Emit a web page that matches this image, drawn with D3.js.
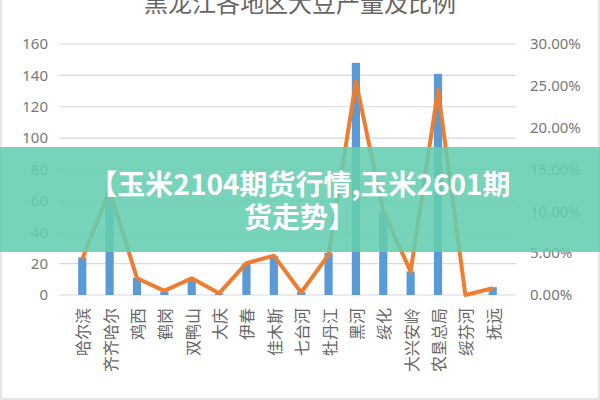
<!DOCTYPE html><html><head><meta charset="utf-8"><script src="https://cdn.jsdelivr.net/npm/d3@7"></script>
<style>body{margin:0;background:#fff}svg{display:block}</style></head><body>
<script>
const categories=["哈尔滨","齐齐哈尔","鸡西","鹤岗","双鸭山","大庆","伊春","佳木斯","七台河","牡丹江","黑河","绥化","大兴安岭","农垦总局","绥芬河","抚远"];
const production=[24,66,11,2,10,1,20,25,2,27,148,53,15,141,0,5];
const share=[0.043,0.125,0.02,0.005,0.02,0.002,0.038,0.047,0.003,0.048,0.255,0.10,0.028,0.245,0,0.008];
const leftTicks=[0,20,40,60,80,100,120,140,160];
const rightTicks=[0,0.05,0.10,0.15,0.20,0.25,0.30];
const title="黑龙江各地区大豆产量及比例";
const bannerLines=["【玉米2104期货行情,玉米2601期","货走势】"];
const W=600,H=400;
const svg=d3.select("body").append("svg").attr("width",W).attr("height",H);
svg.append("rect").attr("x",1).attr("y",-5).attr("width",W-2).attr("height",H+4).attr("fill","#fff").attr("stroke","#ccc");
svg.append("text").attr("x",300).attr("y",12).attr("text-anchor","middle").attr("font-family","Noto Sans CJK SC").attr("font-size",24).attr("fill","#666").text(title);
const x=d3.scaleBand().domain(categories).range([59,516]).padding(0.7);
const y=d3.scaleLinear().domain([0,160]).range([295,44]);
const y2=d3.scaleLinear().domain([0,0.30]).range([295,44]);
const g=svg.append("g");
g.selectAll(".grid").data(leftTicks).join("line").attr("x1",59).attr("x2",516).attr("y1",d=>y(d)).attr("y2",d=>y(d)).attr("stroke","#d9d9d9").attr("stroke-width",1.2);
const ya=svg.append("g").attr("transform","translate(48,0)").call(d3.axisLeft(y).tickValues(leftTicks).tickSize(0).tickPadding(0));
const ya2=svg.append("g").attr("transform","translate(530,0)").call(d3.axisRight(y2).tickValues(rightTicks).tickSize(0).tickPadding(0).tickFormat(d=>(d*100).toFixed(2)+"%"));
[ya,ya2].forEach(a=>{a.select(".domain").remove();a.selectAll("text").attr("font-family","Noto Sans").attr("font-size",15).attr("fill","#777");});
g.selectAll(".bar").data(production).join("rect").attr("x",(d,i)=>x(categories[i])).attr("width",x.bandwidth()).attr("y",d=>y(d)).attr("height",d=>295-y(d)).attr("fill","#5b9bd5");
g.append("path").datum(share).attr("fill","none").attr("stroke","#ed7d31").attr("stroke-width",4).attr("stroke-linejoin","round")
 .attr("d",d3.line().x((d,i)=>x(categories[i])+x.bandwidth()/2).y(d=>y2(d)));
svg.selectAll(".xl").data(categories).join("text").attr("font-family","Noto Sans CJK SC").attr("font-size",16).attr("fill","#666")
 .attr("text-anchor","end").attr("dominant-baseline","central")
 .attr("transform",d=>`translate(${x(d)+x.bandwidth()/2},308) rotate(-90)`).text(d=>d);
svg.append("rect").attr("x",0).attr("y",147).attr("width",W).attr("height",105).attr("fill","rgb(100,205,175)").attr("opacity",0.88);
bannerLines.forEach((l,i)=>svg.append("text").attr("x",300).attr("y",195+i*33).attr("text-anchor","middle").attr("font-family","Noto Sans CJK SC").attr("font-weight","bold").attr("font-size",28).attr("fill","#fff").text(l));
</script></body></html>
